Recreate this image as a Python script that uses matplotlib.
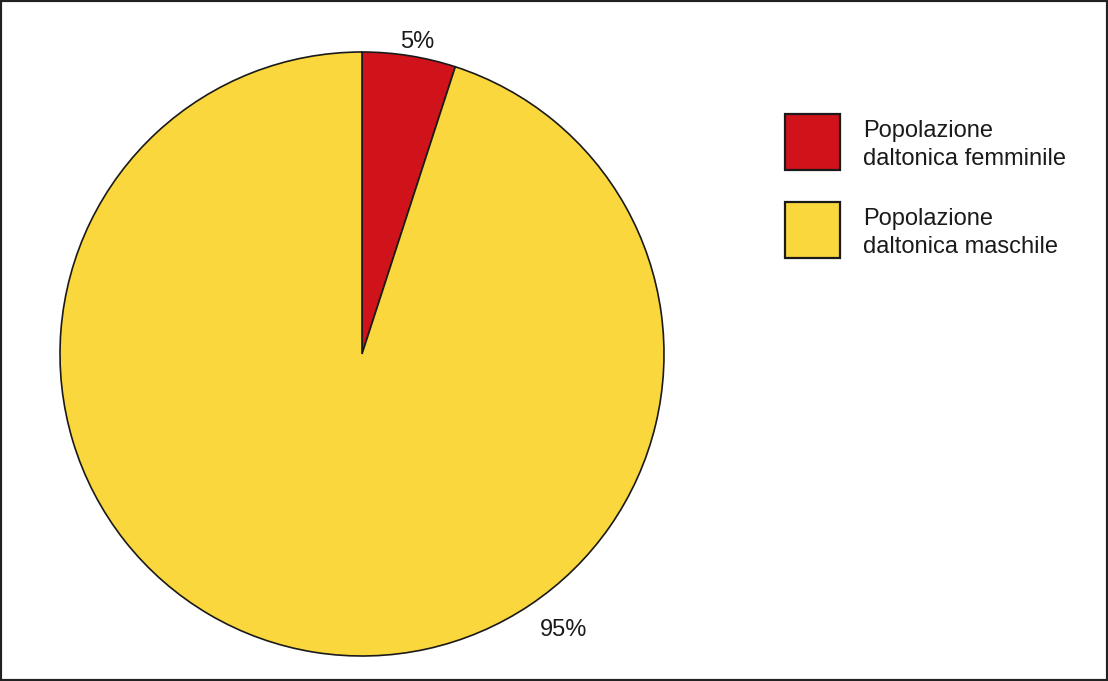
import numpy as np
import matplotlib
matplotlib.use("Agg")
import matplotlib.pyplot as plt
import matplotlib.transforms as mtransforms
from matplotlib.patches import Rectangle

plt.rcParams['font.family'] = ['Liberation Sans', 'DejaVu Sans']

labels = ['Popolazione\ndaltonica femminile', 'Popolazione\ndaltonica maschile']
values = [5, 95]
pct_labels = ['5%', '95%']
colors = ['#D0121A', '#FAD73C']

fig = plt.figure(figsize=(11.08, 6.81), dpi=100)
ax = fig.add_axes([60 / 1108, 25 / 681, 604 / 1108, 604 / 681])
wedges, _ = ax.pie(values, colors=colors, startangle=90, counterclock=False,
                   wedgeprops=dict(edgecolor='#1a1a1a', linewidth=1.2))
ax.set_xlim(-1, 1)
ax.set_ylim(-1, 1)
ax.set_aspect('equal')

# percentage labels placed around the pie
label_pos = [(79.9, 1.05), (-53.9, 1.13)]
for txt, (ang, r) in zip(pct_labels, label_pos):
    a = np.deg2rad(ang)
    ax.text(r * np.cos(a), r * np.sin(a), txt, ha='center', va='center',
            fontsize=17, color='#1a1a1a')

leg = fig.legend(wedges, labels, loc='upper left',
                 bbox_to_anchor=(773 / 1108, 1 - 102 / 681),
                 frameon=False, fontsize=17, borderpad=0,
                 handlelength=2.33, handleheight=3.27, handletextpad=0.97,
                 labelspacing=1.37)
for t in leg.get_texts():
    t.set_color('#1a1a1a')
    t.set_linespacing(1.35)
    # nudge text down a little so it sits centred on the swatch
    t.set_transform(t.get_transform() + mtransforms.Affine2D().translate(0, -5))
for h in leg.legend_handles:
    h.set_linewidth(1.6)

fig.patches.append(Rectangle((0, 0), 1, 1, transform=fig.transFigure,
                             fill=False, edgecolor='#222222', linewidth=3))

fig.savefig('out.png', dpi=100)
